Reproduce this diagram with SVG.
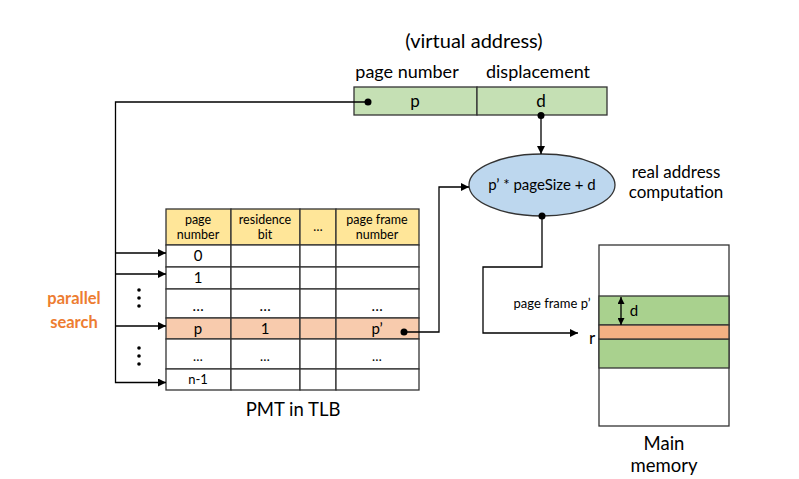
<svg xmlns="http://www.w3.org/2000/svg" width="799" height="479" viewBox="0 0 799 479">
<style>
text{font-family:Lato,"Noto Sans",sans-serif;fill:#000;text-anchor:middle}
.cell{stroke:#333;stroke-width:1.3}
.ln{fill:none;stroke:#000;stroke-width:1.3}
.h{font-size:12.5px}
.s{font-size:13px}
.t{font-size:15px}
.l{font-size:17px}
.va{font-size:18px}
.big{font-size:18.5px}
.vt{font-size:20px}
.ps{font-size:16.5px;font-weight:bold;fill:#ED7D31}
</style>
<defs>
<marker id="ar" viewBox="0 0 10 10" refX="10" refY="5" markerWidth="8" markerHeight="8" markerUnits="userSpaceOnUse" orient="auto"><path d="M0,0L10,5L0,10z" fill="#000"/></marker>
<marker id="ar2" viewBox="0 0 10 10" refX="10" refY="5" markerWidth="7" markerHeight="7" markerUnits="userSpaceOnUse" orient="auto-start-reverse"><path d="M0,0L10,5L0,10z" fill="#000"/></marker>
</defs>
<g id="virtual-address">
<text class="vt" x="474" y="48">(virtual address)</text>
<text class="va" x="407" y="78">page number</text>
<text class="va" x="538" y="78">displacement</text>
<rect class="cell" x="354" y="87" width="123" height="28" fill="#C5E0B4"/>
<rect class="cell" x="477" y="87" width="130" height="28" fill="#C5E0B4"/>
<text class="l" x="415" y="107">p</text>
<text class="l" x="541" y="107">d</text>
</g>
<g id="computation">
<ellipse cx="542" cy="185" rx="73" ry="31" fill="#BDD7EE" stroke="#333" stroke-width="1.3"/>
<text class="t" x="542" y="190">p’ * pageSize + d</text>
<text class="l" x="676" y="178">real address</text>
<text class="l" x="676" y="198">computation</text>
</g>
<g id="pmt">
<g fill="#FFE699">
<rect class="cell" x="166" y="209" width="65" height="36"/>
<rect class="cell" x="231" y="209" width="69" height="36"/>
<rect class="cell" x="300" y="209" width="36" height="36"/>
<rect class="cell" x="336" y="209" width="83" height="36"/>
</g>
<g fill="#fff">
<rect class="cell" x="166" y="245" width="65" height="22"/><rect class="cell" x="231" y="245" width="69" height="22"/><rect class="cell" x="300" y="245" width="36" height="22"/><rect class="cell" x="336" y="245" width="83" height="22"/>
<rect class="cell" x="166" y="267" width="65" height="22"/><rect class="cell" x="231" y="267" width="69" height="22"/><rect class="cell" x="300" y="267" width="36" height="22"/><rect class="cell" x="336" y="267" width="83" height="22"/>
<rect class="cell" x="166" y="289" width="65" height="29"/><rect class="cell" x="231" y="289" width="69" height="29"/><rect class="cell" x="300" y="289" width="36" height="29"/><rect class="cell" x="336" y="289" width="83" height="29"/>
</g>
<g fill="#F8CBAD">
<rect class="cell" x="166" y="318" width="65" height="21"/><rect class="cell" x="231" y="318" width="69" height="21"/><rect class="cell" x="300" y="318" width="36" height="21"/><rect class="cell" x="336" y="318" width="83" height="21"/>
</g>
<g fill="#fff">
<rect class="cell" x="166" y="339" width="65" height="30"/><rect class="cell" x="231" y="339" width="69" height="30"/><rect class="cell" x="300" y="339" width="36" height="30"/><rect class="cell" x="336" y="339" width="83" height="30"/>
<rect class="cell" x="166" y="369" width="65" height="21"/><rect class="cell" x="231" y="369" width="69" height="21"/><rect class="cell" x="300" y="369" width="36" height="21"/><rect class="cell" x="336" y="369" width="83" height="21"/>
</g>
<text class="h" x="198" y="224">page</text><text class="h" x="198" y="239">number</text>
<text class="h" x="265" y="224">residence</text><text class="h" x="265" y="239">bit</text>
<text class="h" x="318" y="231">…</text>
<text class="h" x="377" y="224">page frame</text><text class="h" x="377" y="239">number</text>
<text class="t" x="198" y="261">0</text>
<text class="t" x="198" y="283">1</text>
<text class="t" x="198" y="311">…</text><text class="t" x="265" y="311">…</text><text class="t" x="377" y="311">…</text>
<text class="t" x="198" y="334">p</text><text class="t" x="265" y="334">1</text><text class="t" x="377" y="334">p’</text>
<text class="s" x="198" y="361">…</text><text class="s" x="265" y="361">…</text><text class="s" x="377" y="361">…</text>
<text class="s" x="198" y="384">n-1</text>
<text class="big" x="293" y="416">PMT in TLB</text>
</g>
<g id="parallel-search">
<text class="ps" x="74" y="304">parallel</text>
<text class="ps" x="74" y="328">search</text>
<g fill="#000">
<circle cx="139" cy="290" r="1.8"/><circle cx="139" cy="298" r="1.8"/><circle cx="139" cy="306" r="1.8"/>
<circle cx="139" cy="348" r="1.8"/><circle cx="139" cy="356" r="1.8"/><circle cx="139" cy="364" r="1.8"/>
</g>
</g>
<g id="memory">
<rect class="cell" x="599" y="245" width="130" height="181" fill="#fff"/>
<rect class="cell" x="599" y="296" width="130" height="29" fill="#A9D18E"/>
<rect class="cell" x="599" y="339" width="130" height="29" fill="#A9D18E"/>
<rect class="cell" x="599" y="325" width="130" height="14" fill="#F4B183"/>
<line class="ln" x1="621" y1="297" x2="621" y2="325" marker-start="url(#ar2)" marker-end="url(#ar2)"/>
<text class="t" x="634" y="316">d</text>
<text class="s" x="552" y="308">page frame p’</text>
<text class="l" x="592" y="344">r</text>
<text class="big" x="664" y="450">Main</text>
<text class="big" x="664" y="472">memory</text>
</g>
<g id="connectors">
<path class="ln" d="M368,102H115.5V382.5H166" marker-end="url(#ar)"/>
<path class="ln" d="M115.5,253H166" marker-end="url(#ar)"/>
<path class="ln" d="M115.5,274H166" marker-end="url(#ar)"/>
<path class="ln" d="M115.5,326H166" marker-end="url(#ar)"/>
<circle cx="368" cy="102" r="3.5"/>
<path class="ln" d="M541,115V154" marker-end="url(#ar)"/>
<circle cx="541" cy="115.5" r="3.5"/>
<path class="ln" d="M404,332H439V187H469" marker-end="url(#ar)"/>
<circle cx="404" cy="332" r="3.5"/>
<path class="ln" d="M542,216V267H483V333H578" marker-end="url(#ar)"/>
<circle cx="542" cy="216" r="3.5"/>
</g>
</svg>
